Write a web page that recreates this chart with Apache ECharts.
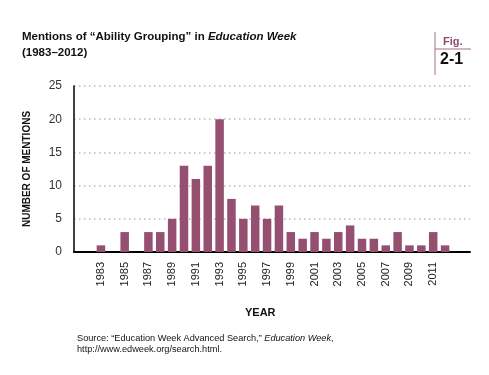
<!DOCTYPE html>
<html lang="en">
<head>
	<meta charset="UTF-8">
	<title>ability_grouping</title>
	<script type="text/javascript" src="https://cdn.jsdelivr.net/npm/echarts@6/dist/echarts.min.js"></script>
	<style>
		html, body { margin: 0; padding: 0; background: #fff; }
	</style>
</head>
<body>
<div id="mentions" style="width: 489px;height: 375px"></div>

<script type="text/javascript">
    // 数据
    var years = ['1983','1984','1985','1986','1987','1988','1989','1990','1991','1992',
                 '1993','1994','1995','1996','1997','1998','1999','2000','2001','2002',
                 '2003','2004','2005','2006','2007','2008','2009','2010','2011','2012'];
    var mentions = [1, 0, 3, 0, 3, 3, 5, 13, 11, 13,
                    20, 8, 5, 7, 5, 7, 3, 2, 3, 2,
                    3, 4, 2, 2, 1, 3, 1, 1, 3, 1];
    var yTicks = {min: 0, max: 25, interval: 5};

    var barColor = '#944f71';
    var font = 'Liberation Sans, Arial, sans-serif';

    var chart = echarts.init(document.getElementById('mentions'));

    var option = {
        animation: false,
        title: {
            left: 22,
            top: 29,
            padding: 0,
            text: '{b|Mentions of “Ability Grouping” in }{bi|Education Week}\n{b|(1983–2012)}',
            textStyle: {
                rich: {
                    b: {fontFamily: font, fontWeight: 'bold', fontSize: 11.5, color: '#111', lineHeight: 16},
                    bi: {fontFamily: font, fontWeight: 'bold', fontStyle: 'italic', fontSize: 11.5, color: '#111', lineHeight: 16}
                }
            }
        },
        // grid 0: 坐标轴和网格线, grid 1: 柱子和年份标签
        grid: [
            {left: 74, right: 19, top: 86, height: 166},
            {left: 95, width: 356, top: 86, height: 166}
        ],
        xAxis: [
            {
                type: 'category',
                gridIndex: 0,
                data: years,
                axisLine: {lineStyle: {color: '#000', width: 2}},
                axisTick: {show: false},
                axisLabel: {show: false}
            },
            {
                type: 'category',
                gridIndex: 1,
                data: years,
                axisLine: {show: false},
                axisTick: {show: false},
                axisLabel: {
                    interval: 1,
                    rotate: 90,
                    margin: 10,
                    fontFamily: font,
                    fontSize: 11,
                    color: '#222'
                }
            }
        ],
        yAxis: [
            {
                type: 'value',
                gridIndex: 0,
                min: yTicks.min,
                max: yTicks.max,
                interval: yTicks.interval,
                name: 'NUMBER OF MENTIONS',
                nameLocation: 'middle',
                nameGap: 42,
                nameRotate: 90,
                nameTextStyle: {fontFamily: font, fontWeight: 'bold', fontSize: 10, color: '#111'},
                axisLine: {show: true, lineStyle: {color: '#000', width: 1.5}},
                axisTick: {show: false},
                axisLabel: {margin: 12, fontFamily: font, fontSize: 12, color: '#333'},
                splitLine: {lineStyle: {color: '#bbb', width: 1.5, type: [1.5, 3.5]}}
            },
            {
                type: 'value',
                gridIndex: 1,
                min: yTicks.min,
                max: yTicks.max,
                interval: yTicks.interval,
                show: false,
                splitLine: {show: false}
            }
        ],
        series: [
            {
                name: 'Mentions',
                type: 'bar',
                xAxisIndex: 1,
                yAxisIndex: 1,
                barWidth: 8.5,
                itemStyle: {color: barColor},
                data: mentions
            }
        ],
        graphic: [
            // Fig. 2-1 标记
            {type: 'line', shape: {x1: 435, y1: 32, x2: 435, y2: 75}, style: {stroke: '#a07088', lineWidth: 1}},
            {type: 'line', shape: {x1: 435, y1: 49, x2: 471, y2: 49}, style: {stroke: '#a07088', lineWidth: 1}},
            {type: 'text', left: 443, top: 36, style: {text: 'Fig.', fontFamily: font, fontWeight: 'bold', fontSize: 11, fill: '#8c4a6c'}},
            {type: 'text', left: 440, top: 52, style: {text: '2-1', fontFamily: font, fontWeight: 'bold', fontSize: 16, fill: '#111'}},
            // x轴名称
            {type: 'text', left: 245, top: 307, style: {text: 'YEAR', fontFamily: font, fontWeight: 'bold', fontSize: 11, fill: '#111'}},
            // 数据来源
            {
                type: 'text', left: 77, top: 334,
                style: {
                    text: '{n|Source: “Education Week Advanced Search,” }{i|Education Week}{n|,}\n{n|http://www.edweek.org/search.html.}',
                    rich: {
                        n: {fontFamily: font, fontSize: 9.2, fill: '#111', lineHeight: 11},
                        i: {fontFamily: font, fontSize: 9.2, fontStyle: 'italic', fill: '#111', lineHeight: 11}
                    }
                }
            }
        ]
    };

    chart.setOption(option);
</script>
</body>
</html>
